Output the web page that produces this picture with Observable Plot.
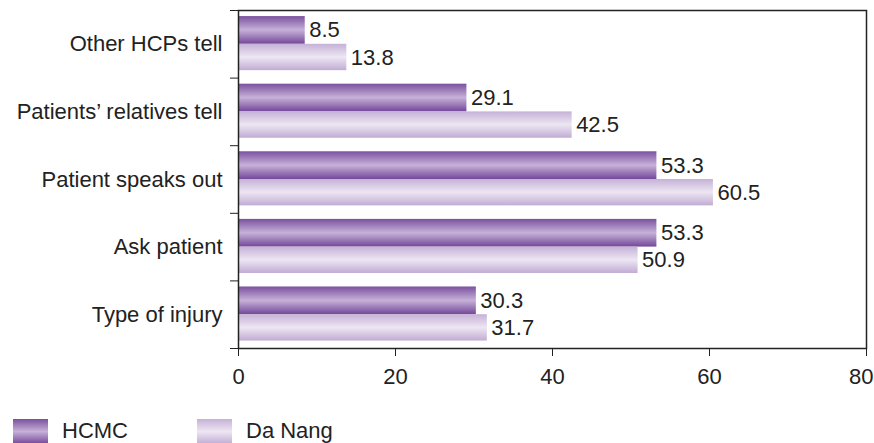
<!DOCTYPE html>
<html><head><meta charset="utf-8">
<script src="https://cdn.jsdelivr.net/npm/d3@7"></script>
<script src="https://cdn.jsdelivr.net/npm/@observablehq/plot@0.6"></script>
<style>
body{margin:0;background:#fff;font-family:"Liberation Sans",Arial,sans-serif;}
#wrap{position:relative;width:874px;height:443px;overflow:hidden;}
.leg{position:absolute;top:418px;display:flex;align-items:center;font-size:22px;color:#222;}
.sw{width:35px;height:25px;margin-right:14px;}
</style></head>
<body><div id="wrap"></div>
<script>
const categories = ["Other HCPs tell", "Patients’ relatives tell", "Patient speaks out", "Ask patient", "Type of injury"];
const hcmc = [8.5, 29.1, 53.3, 53.3, 30.3];
const daNang = [13.8, 42.5, 60.5, 50.9, 31.7];
const series = ["HCMC", "Da Nang"];
const xTicks = [0, 20, 40, 60, 80];

const rows = [];
categories.forEach((c, i) => {
  rows.push({cat: c, i, s: "HCMC", v: hcmc[i], y1: i + 0.09, y2: i + 0.5});
  rows.push({cat: c, i, s: "Da Nang", v: daNang[i], y1: i + 0.5, y2: i + 0.89});
});
const fills = {"HCMC": "url(#gH)", "Da Nang": "url(#gD)"};
const FS = 22;

const chart = Plot.plot({
  width: 874, height: 400,
  marginLeft: 238, marginRight: 8, marginTop: 10, marginBottom: 52,
  style: {fontFamily: '"Liberation Sans", Arial, sans-serif', fontSize: FS + "px", color: "#222", overflow: "visible"},
  x: {domain: [0, 80]},
  y: {domain: [categories.length, 0]},
  marks: [
    Plot.rectX(rows, {x1: 0, x2: "v", y1: "y1", y2: "y2", fill: d => fills[d.s]}),
    Plot.text(rows, {x: "v", y: d => (d.y1 + d.y2) / 2, text: d => d.v.toFixed(1), textAnchor: "start", dx: 4, fontSize: FS, fill: "#222"}),
    Plot.frame({stroke: "#222", strokeWidth: 1.5}),
    Plot.axisX({ticks: xTicks, tickSize: 8, tickFormat: () => "", stroke: "#222", label: null}),
    Plot.axisX({ticks: xTicks.slice(0, -1), tickSize: 0, tickPadding: 20, fontSize: FS, label: null}),
    Plot.axisX({ticks: xTicks.slice(-1), tickSize: 0, tickPadding: 20, fontSize: FS, label: null, textAnchor: "end", dx: 7}),
    Plot.axisY({ticks: d3.range(categories.length + 1), tickSize: 8, tickFormat: () => "", stroke: "#222", label: null}),
    Plot.axisY({ticks: categories.map((c, i) => i + 0.5), tickSize: 0, tickPadding: 16, tickFormat: v => categories[Math.floor(v)], fontSize: FS, label: null})
  ]
});

const ns = "http://www.w3.org/2000/svg";
const defs = document.createElementNS(ns, "defs");
function grad(id, stops) {
  const g = document.createElementNS(ns, "linearGradient");
  g.setAttribute("id", id); g.setAttribute("x1", 0); g.setAttribute("y1", 0); g.setAttribute("x2", 0); g.setAttribute("y2", 1);
  stops.forEach(([o, c]) => { const s = document.createElementNS(ns, "stop"); s.setAttribute("offset", o); s.setAttribute("stop-color", c); g.appendChild(s); });
  defs.appendChild(g);
}
grad("gH", [[0, "#7b519f"], [0.5, "#c6b1d8"], [1, "#744799"]]);
grad("gD", [[0, "#c5b1d7"], [0.5, "#ede6f2"], [1, "#c1acd4"]]);
chart.insertBefore(defs, chart.firstChild);

const wrap = document.getElementById("wrap");
wrap.appendChild(chart);
const legCss = {"HCMC": "linear-gradient(#7b519f,#c6b1d8,#744799)", "Da Nang": "linear-gradient(#c5b1d7,#ede6f2,#c1acd4)"};
const legX = [13, 197];
series.forEach((s, k) => {
  const d = document.createElement("div");
  d.className = "leg"; d.style.left = legX[k] + "px";
  d.innerHTML = `<div class="sw" style="background:${legCss[s]}"></div><span>${s}</span>`;
  wrap.appendChild(d);
});
</script></body></html>
